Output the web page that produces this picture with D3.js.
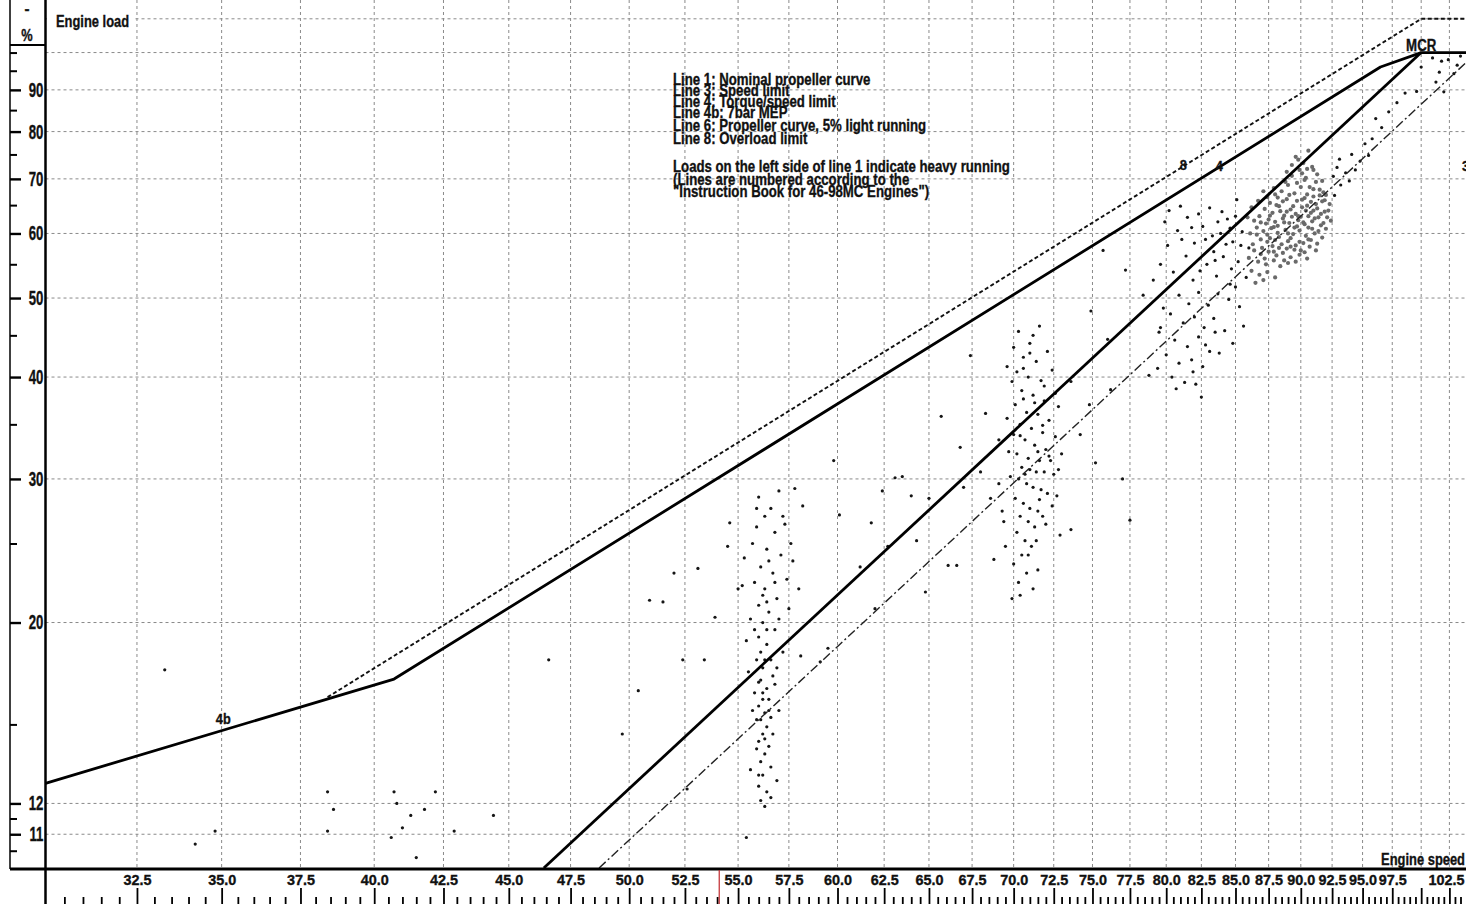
<!DOCTYPE html>
<html><head><meta charset="utf-8">
<script src="https://cdn.jsdelivr.net/npm/d3@7/dist/d3.min.js"></script>
<style>
html,body{margin:0;padding:0;background:#fff;}
svg{display:block;}
text{font-family:"Liberation Sans",Arial,sans-serif;font-weight:bold;fill:#111;stroke:#111;stroke-width:0.35px;}
</style></head><body>
<svg id="chart" width="1466" height="904"></svg>
<script>
// ---------------- DATA ----------------
const xMajorTicks = [32.5,35,37.5,40,42.5,45,47.5,50,52.5,55,57.5,60,62.5,65,67.5,70,72.5,75,77.5,80,82.5,85,87.5,90,92.5,95,97.5,100,102.5];
const xLabelValues = [32.5,35,37.5,40,42.5,45,47.5,50,52.5,55,57.5,60,62.5,65,67.5,70,72.5,75,77.5,80,82.5,85,87.5,90,92.5,95,97.5,102.5];
const xMinorTicks = [30.5,31,31.5,32,33,33.5,34,34.5,35.5,36,36.5,37,38,38.5,39,39.5,40.5,41,41.5,42,43,43.5,44,44.5,45.5,46,46.5,47,48,48.5,49,49.5,50.5,51,51.5,52,53,53.5,54,54.5,55.5,56,56.5,57,58,58.5,59,59.5,60.5,61,61.5,62,63,63.5,64,64.5,65.5,66,66.5,67,68,68.5,69,69.5,70.5,71,71.5,72,73,73.5,74,74.5,75.5,76,76.5,77,78,78.5,79,79.5,80.5,81,81.5,82,83,83.5,84,84.5,85.5,86,86.5,87,88,88.5,89,89.5,90.5,91,91.5,92,93,93.5,94,94.5,95.5,96,96.5,97,98,98.5,99,99.5,100.5,101,101.5,102,103,103.5];
const yLabelValues = [11,12,20,30,40,50,60,70,80,90];
const yMinorTicks = [10.5,11.5,15,25,35,45,55,65,75,85,95,100];
const yGridValues = [11,12,20,30,40,50,60,70,80,90,100,110];

// Line 1: nominal propeller curve
const line1Speed = [46.4, 100];
const line1Load  = [10, 100];
// Line 6: propeller curve, 5% light running
const line6Speed = [48.7, 104];
const line6Load  = [10, 97.2];
// Line 4b (7 bar MEP) + Line 4 (torque/speed limit) + 100% load
const line4Speed = [30, 40.7, 96.5, 100, 104];
const line4Load  = [12.7, 17.05, 96.0, 100, 100];
// Line 8: overload limit
const line8Speed = [38.4, 100, 104];
const line8Load  = [16.2, 110, 110];

const markerSpeed = 54.1;

const notes = [
 "Line 1: Nominal propeller curve",
 "Line 3: Speed limit",
 "Line 4: Torque/speed limit",
 "Line 4b: 7bar MEP",
 "Line 6: Propeller curve, 5% light running",
 "Line 8: Overload limit",
 "Loads on the left side of line 1 indicate heavy running",
 "(Lines are numbered according to the",
 "\"Instruction Book for 46-98MC Engines\")"
];

// measured points [speed, load]
const pointsSparse = [
 [33.3,17.5],[34.2,10.7],[34.8,11.1],[38.4,12.4],[38.6,11.8],[38.4,11.1],[40.7,12.4],[40.8,12.0],[41.0,11.2],[41.3,11.6],[41.5,10.3],[41.8,11.8],[42.2,12.4],[42.9,11.1],[44.4,11.6],[40.6,10.9],[46.6,18.0],
 [49.7,14.6],[50.4,16.5],[50.9,21.3],[51.5,21.2],[52.0,23.0],[52.4,18.0],[52.6,12.5],[53.1,23.3],[53.4,18.0],[53.9,20.3],[54.6,26.5],[54.5,24.8],[55.0,22.0],[55.4,10.9],
 [56.0,28.5],[56.6,27.6],[57.0,29.0],[57.8,29.2],[56.3,27.0],[55.9,26.2],[56.8,25.8],[57.3,26.4],[55.7,25.0],[56.4,24.6],[57.1,24.2],[56.1,23.4],[56.7,23.0],[55.8,22.4],[57.4,22.6],[56.3,22.0],[56.9,21.4],[56.0,21.0],[56.5,20.6],[55.6,20.2],[56.2,20.0],[56.8,19.6],[57.5,20.8],[56.0,19.2],[56.4,18.8],[56.1,18.4],[55.9,18.0],[56.3,18.0],[56.6,18.0],[56.2,17.6],[56.7,17.2],[56.0,16.9],[56.4,16.6],[55.8,16.4],[56.2,16.1],[56.5,16.1],[56.0,15.8],[56.3,15.5],[56.6,15.3],[55.9,15.2],[56.1,15.2],[56.4,14.9],[56.2,14.6],[56.0,14.3],[56.5,14.1],[56.3,13.8],[56.1,13.5],[56.6,13.3],[56.2,13.0],[56.0,12.6],[56.4,12.4],[56.1,12.1],[56.3,11.9],[55.2,22.2],[55.4,19.0],[57.7,23.8],[58.0,22.0],[57.2,18.4],[55.5,17.4],[57.0,15.6],[55.6,13.2],[56.9,12.8],[57.6,25.0],[58.2,27.8],[55.3,24.0],[56.8,16.8],[55.9,14.0],[56.7,14.6],[56.2,21.6],[56.5,23.8],
 [56.4,19.6],[56.1,17.0],[56.5,15.6],[56.3,14.4],[56.0,13.0],[56.6,12.2],[56.2,16.4],[55.8,19.6],[57.0,20.2],[56.9,17.6],[55.7,15.6],[56.4,21.2],[56.8,22.4],[57.2,27.0],[55.9,27.6],
 [58.1,18.2],[59.1,17.9],[59.5,18.6],[59.8,31.6],[60.1,27.1],[61.2,23.4],[62.0,20.8],[62.4,29.0],[63.1,30.1],[63.5,30.2],[64.0,28.6],[65.0,28.4],[65.7,35.8],[66.1,23.5],[66.8,32.8],[67.4,42.5],[68.0,30.6],[68.6,28.4],[64.3,25.2],[66.6,23.5],[62.7,24.8],[61.8,26.5],[67.0,29.3],[68.3,36.1],[69.1,33.5],[69.4,26.6],[68.8,23.9],[69.6,41.2],[64.8,21.8],
 [70.3,45.5],[71.0,44.0],[71.6,46.2],[70.6,42.3],[71.4,41.8],[72.1,43.0],[70.2,40.6],[70.9,40.0],[71.7,39.6],[72.4,40.8],[70.5,38.5],[71.2,38.0],[71.9,37.4],[70.1,37.0],[70.8,36.2],[71.5,36.0],[72.2,35.4],[70.4,35.0],[71.1,34.6],[71.8,34.2],[72.6,33.8],[70.7,33.5],[71.3,33.0],[72.0,32.6],[70.2,32.2],[70.9,31.8],[71.6,31.6],[72.3,31.6],[70.5,31.0],[71.0,30.8],[71.4,30.6],[71.9,30.6],[72.5,30.4],[70.3,30.0],[70.8,29.6],[71.2,29.3],[71.7,29.1],[72.1,28.8],[70.1,28.4],[70.6,28.0],[71.0,27.6],[71.5,27.4],[70.4,27.0],[70.9,26.6],[71.3,26.2],[70.2,25.8],[70.7,25.2],[71.1,24.8],[70.5,24.2],[70.0,23.6],[70.8,23.0],[70.3,22.4],[69.9,21.4],[69.5,24.8],[69.8,30.2],[69.6,35.6],[69.9,39.5],[72.8,36.8],[73.0,32.2],[72.7,28.6],[72.9,25.6],[70.6,41.0],[71.3,37.2],[71.8,34.9],[72.2,32.0],[70.4,33.9],[71.5,32.4],[70.7,30.4],[71.6,28.3],[72.4,27.8],[69.3,27.4],[69.1,29.6],[70.0,43.5],[71.2,45.0],
 [71.4,25.2],[72.0,26.4],[71.8,27.0],[70.9,24.2],[71.5,23.2],[70.4,21.6],[71.2,22.0],[70.6,37.6],[71.9,39.0],[72.6,38.2],[71.0,42.8],[72.8,30.8],[70.0,34.0],[69.7,32.4],
 [73.6,26.0],[74.2,34.0],[74.9,48.2],[75.7,57.2],[77.2,54.1],[77.5,26.7],[76.2,38.6],[75.2,31.4],[78.4,50.4],[79.6,46.0],[76.0,44.5],[78.8,40.2],[73.6,39.5],[74.8,37.0],[77.0,30.0],
 [80.2,64.0],[80.8,60.5],[81.5,62.8],[82.0,58.4],[82.6,61.2],[83.1,64.5],[83.4,57.0],[83.9,60.0],[84.4,62.5],[84.8,58.6],[85.2,55.4],[82.9,55.0],[81.4,56.3],[80.5,53.8],[81.9,52.6],[82.4,54.0],[83.6,53.2],[84.1,56.2],[84.7,54.3],[85.0,51.6],[80.9,50.4],[81.6,49.2],[82.3,50.8],[83.0,49.0],[83.7,50.6],[84.5,49.8],[85.3,48.8],[80.3,47.8],[81.2,46.6],[82.0,47.4],[82.7,46.0],[83.4,47.2],[84.2,45.6],[79.5,45.4],[80.6,44.4],[81.5,43.6],[82.3,44.8],[83.1,43.0],[80.0,42.6],[80.9,41.6],[81.8,42.0],[82.6,41.2],[79.4,41.0],[80.4,40.0],[81.3,39.4],[82.1,39.2],[83.8,42.8],[84.8,44.0],[79.8,48.6],[85.6,46.2],[80.1,58.0],[79.6,55.0],[81.1,59.0],[83.3,59.6],[84.0,63.8],[85.5,60.3],[85.8,53.0],[86.0,57.6],[82.8,43.8],[81.9,40.6],[82.5,37.8],[80.7,38.7],[83.5,45.4],[84.6,52.0],[79.1,52.6],[81.0,64.8],[79.9,62.0],
 [84.6,60.9],[85.0,63.0],[85.4,58.0],[83.7,62.0],[82.8,59.0],[81.8,61.0],[82.3,63.4],[83.5,55.6],[84.3,58.2],[85.1,66.0],
 [92.6,70.5],[92.9,72.3],[93.1,74.0],[93.2,68.8],[93.6,71.2],[94.1,75.0],[94.4,71.8],[94.8,73.6],[95.2,77.3],[95.8,78.4],[96.1,83.0],[96.6,80.9],[97.2,84.6],[97.9,86.8],[98.6,89.2],[99.6,89.6],[100.0,96.0],[93.9,69.6],[92.7,66.8],[95.5,74.8],
 [101.0,98.5],[101.8,97.6],[102.4,98.0],[102.9,94.2],[103.2,96.5],[101.3,92.0],[102.0,89.5],[103.5,99.0],[101.6,94.6]
];
const pointsDense = [
 [89.6,74.5],[90.2,73.2],[90.6,75.8],[89.9,71.8],[90.9,72.4],[89.3,70.6],[91.3,70.9],[90.4,70.2],[88.8,69.4],[91.7,69.6],
 [87.9,68.2],[88.5,67.6],[89.0,68.8],[89.5,67.2],[90.0,68.4],[90.5,67.0],[91.0,68.0],[91.5,66.8],[88.2,66.4],[88.9,66.1],[89.7,65.8],[90.3,66.3],[90.8,65.6],[91.2,65.2],[91.8,67.4],[87.6,65.4],
 [87.2,64.3],[87.8,63.6],[88.3,64.8],[88.7,63.1],[89.2,64.2],[89.6,63.4],[90.1,64.6],[90.6,63.0],[91.0,64.0],[91.4,62.8],[91.9,63.8],[87.5,62.4],[88.0,62.0],[88.6,62.6],[89.1,61.8],[89.8,62.3],[90.3,61.6],[90.9,62.1],[91.6,61.4],[86.8,63.0],
 [86.6,61.0],[87.1,60.4],[87.7,60.9],[88.2,60.1],[88.8,60.6],[89.4,59.9],[89.9,60.5],[90.4,59.6],[91.1,60.0],[91.7,59.3],[86.9,59.0],[87.4,58.6],[88.0,58.9],[88.5,58.2],[89.0,58.7],[89.6,58.0],[90.2,58.4],[90.7,57.8],[91.3,58.3],[86.3,58.2],
 [86.4,57.2],[86.9,56.6],[87.5,57.0],[88.1,56.4],[88.6,56.8],[89.2,56.1],[89.9,56.5],[90.5,55.9],[86.7,55.4],[87.3,55.0],[87.9,55.6],[88.4,54.7],[89.0,55.2],[86.2,54.0],[86.8,53.4],[87.4,53.8],[88.0,53.0],[86.5,52.2],[87.1,52.6],
 [88.4,63.9],[89.3,62.9],[90.0,62.9],[90.5,64.9],[89.0,60.0],[89.7,61.2],[90.6,61.0],[88.2,61.3],[87.4,59.8],[88.9,57.5],[89.5,57.3],[87.8,57.9],[91.9,65.9],[92.2,64.0],[92.4,62.2],[92.0,60.8],
 [87.3,61.7],[87.6,63.1],[87.9,61.1],[88.1,65.0],[88.3,59.4],[88.6,65.7],[88.7,61.9],[88.9,63.8],[89.1,66.9],[89.2,59.2],[89.4,64.8],[89.5,61.0],[89.7,69.2],[89.8,63.0],[89.9,58.6],[90.1,66.0],[90.2,61.9],[90.3,69.8],[90.4,64.0],[90.6,59.0],[90.7,68.4],[90.8,63.6],[90.9,60.8],[91.0,66.6],[91.1,62.6],[91.2,69.4],[91.3,64.4],[91.4,60.4],[91.5,67.9],[91.6,63.4],[91.7,65.7],[91.8,61.8],[92.0,66.9],[92.1,62.8],[92.3,65.2],
 [86.6,59.8],[86.9,61.9],[87.0,57.6],[87.2,55.9],[87.6,59.2],[87.9,57.0],[88.3,57.6],[88.7,55.6],[89.2,57.8],[89.6,55.4],[90.0,57.2],[90.3,56.9],[90.8,58.9],[91.2,57.2],[89.3,72.8],[89.8,73.9],[90.5,72.0],[90.1,71.1],[88.9,71.4],[91.0,71.8],[87.4,66.5],[88.0,67.0],[86.4,62.2],[86.1,60.0],[86.0,56.0],[85.9,62.8],[86.2,64.6],[86.7,65.8],[87.1,67.6]
];

// ---------------- LAYOUT ----------------
const W = 1466, H = 904, X0 = 45.5, AX = 868;
const x = d3.scaleLog().domain([30, 104]).range([X0, W]);
const y = d3.scaleLog().domain([10, 116]).range([AX, 0]);
const svg = d3.select("#chart");
svg.append("rect").attr("width", W).attr("height", H).attr("fill", "#fff");
svg.append("defs").append("clipPath").attr("id", "plot")
  .append("rect").attr("x", X0).attr("y", 0).attr("width", W - X0).attr("height", AX);

// grid
const gv = svg.append("g").attr("stroke", "#8a8a8a").attr("stroke-width", 1).attr("stroke-dasharray", "3,3");
gv.selectAll("line").data(xMajorTicks).join("line")
  .attr("x1", d => x(d)).attr("x2", d => x(d)).attr("y1", 0).attr("y2", AX);
const gh = svg.append("g").attr("stroke", "#8a8a8a").attr("stroke-width", 1).attr("stroke-dasharray", "3,3");
gh.selectAll("line").data(yGridValues).join("line")
  .attr("x1", X0).attr("x2", W).attr("y1", d => y(d)).attr("y2", d => y(d));

// notes block
const noteBase = [85, 96, 107, 118, 131, 144, 172, 185, 197];
const ng = svg.append("g");
const noteTexts = ng.selectAll("text").data(notes).join("text")
  .attr("font-size", 16.5).text(d => d);
const refW = noteTexts.filter((d, i) => i === 6).node().getComputedTextLength();
const noteSx = 337 / refW;
noteTexts.attr("transform", (d, i) => `translate(673,${noteBase[i]}) scale(${noteSx},1)`);

// scatter
const sc = svg.append("g").attr("clip-path", "url(#plot)");
sc.selectAll("circle.d").data(pointsDense).join("circle").attr("class", "d")
  .attr("cx", d => x(d[0])).attr("cy", d => y(d[1])).attr("r", 2.1).attr("fill", "#6a6a6a");
sc.selectAll("circle.s").data(pointsSparse).join("circle").attr("class", "s")
  .attr("cx", d => x(d[0])).attr("cy", d => y(d[1])).attr("r", 1.6).attr("fill", "#151515");

// lines
const lineGen = d3.line().x(d => x(d[0])).y(d => y(d[1]));
const lg = svg.append("g").attr("clip-path", "url(#plot)").attr("fill", "none");
lg.append("path").attr("d", lineGen(d3.zip(line6Speed, line6Load)))
  .attr("stroke", "#222").attr("stroke-width", 1.4).attr("stroke-dasharray", "9,3,2,3");
lg.append("path").attr("d", lineGen(d3.zip(line8Speed, line8Load)))
  .attr("stroke", "#111").attr("stroke-width", 1.9).attr("stroke-dasharray", "4,2.5");
lg.append("path").attr("d", lineGen(d3.zip(line1Speed, line1Load)))
  .attr("stroke", "#000").attr("stroke-width", 2.8);
lg.append("path").attr("d", lineGen(d3.zip(line4Speed, line4Load)))
  .attr("stroke", "#000").attr("stroke-width", 2.8).attr("stroke-linejoin", "round");

// line labels
function cText(g, str, tx, ty, size, sx, anchor) {
  return g.append("text").attr("font-size", size).attr("text-anchor", anchor || "middle")
    .attr("transform", `translate(${tx},${ty}) scale(${sx},1)`).text(str);
}
cText(svg, "4b", x(35.05), 724, 15, 0.85);
cText(svg, "8", x(81.2), 170, 15, 0.85);
cText(svg, "4", x(83.8), 171, 15, 0.85);
cText(svg, "MCR", x(100), 51, 17, 0.78);
cText(svg, "3", 1462, 171, 15, 0.85, "start");

// axes frame
svg.append("rect").attr("x", 47).attr("y", 8).attr("width", 88).attr("height", 26).attr("fill", "#fff");
cText(svg, "Engine load", 56, 27, 17, 0.76, "start");
cText(svg, "Engine speed", 1465, 865, 17, 0.76, "end");

svg.append("line").attr("x1", 10).attr("x2", 10).attr("y1", 0).attr("y2", AX + 1).attr("stroke", "#000").attr("stroke-width", 1.5);
svg.append("line").attr("x1", 10).attr("x2", 46).attr("y1", 45).attr("y2", 45).attr("stroke", "#000").attr("stroke-width", 2);
svg.append("line").attr("x1", X0).attr("x2", X0).attr("y1", 0).attr("y2", H).attr("stroke", "#000").attr("stroke-width", 2.5);
svg.append("line").attr("x1", 10).attr("x2", W).attr("y1", AX + 1).attr("y2", AX + 1).attr("stroke", "#000").attr("stroke-width", 2.8);
cText(svg, "-", 27, 14, 15, 1);
cText(svg, "%", 27, 41, 16, 0.8);

// x axis ticks and labels
function styleAxis(g) {
  g.select(".domain").remove();
  g.selectAll(".tick line").attr("stroke", "#000").attr("stroke-width", 1.8);
}
svg.append("g").attr("transform", `translate(0,888)`)
  .call(d3.axisBottom(x).tickValues(xMajorTicks).tickSize(17).tickFormat(""))
  .call(styleAxis);
svg.append("g").attr("transform", `translate(0,897)`)
  .call(d3.axisBottom(x).tickValues(xMinorTicks).tickSize(8).tickFormat(""))
  .call(styleAxis);
const XLS = 0.93;
const xl = svg.append("g").attr("transform", `translate(0,${AX})`)
  .call(d3.axisBottom(x).tickValues(xLabelValues).tickSize(0).tickPadding(6).tickFormat(d3.format(".1f")));
xl.select(".domain").remove();
xl.attr("font-family", null).attr("font-size", null);
xl.selectAll("text").attr("font-size", 15.5).attr("fill", "#111")
  .attr("transform", `scale(${XLS},1)`);
// keep the last label inside the picture
xl.selectAll(".tick").each(function(d) {
  const t = d3.select(this).select("text");
  const half = this.querySelector("text").getComputedTextLength() * XLS / 2;
  if (x(d) + half > W - 2) t.attr("transform", `translate(${W - 2 - half - x(d)},0) scale(${XLS},1)`);
});

// y axis ticks and labels
svg.append("g").attr("transform", `translate(10,0)`)
  .call(d3.axisRight(y).tickValues(yLabelValues).tickSize(11).tickFormat(""))
  .call(g => { styleAxis(g); g.selectAll(".tick line").attr("stroke-width", 2.4); });
svg.append("g").attr("transform", `translate(10,0)`)
  .call(d3.axisRight(y).tickValues(yMinorTicks).tickSize(7).tickFormat(""))
  .call(g => { styleAxis(g); g.selectAll(".tick line").attr("stroke-width", 2); });
const yl = svg.append("g").attr("transform", `translate(44,0)`)
  .call(d3.axisLeft(y).tickValues(yLabelValues).tickSize(0).tickPadding(1).tickFormat(d3.format("d")));
yl.select(".domain").remove();
yl.attr("font-family", null).attr("font-size", null);
yl.selectAll("text").attr("font-size", 20).attr("fill", "#111")
  .attr("transform", "scale(0.66,1)");

// red marker below axis
svg.append("line").attr("x1", x(markerSpeed)).attr("x2", x(markerSpeed))
  .attr("y1", AX + 2).attr("y2", H).attr("stroke", "#c0282d").attr("stroke-width", 1.2);
</script>
</body></html>
